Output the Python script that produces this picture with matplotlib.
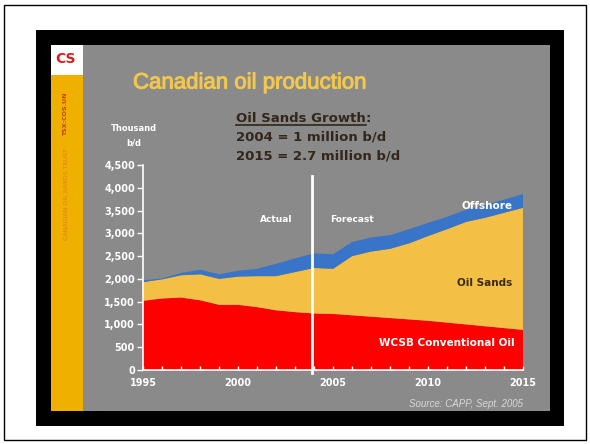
"""Canadian oil production slide, CAPP Sept 2005."""
import matplotlib

matplotlib.use("Agg")
import matplotlib.patheffects as pe
import matplotlib.pyplot as plt
from matplotlib.patches import Rectangle
from matplotlib.ticker import FixedLocator, FuncFormatter

years = list(range(1995, 2016))
conventional = [1520, 1570, 1590, 1530, 1430, 1430, 1380, 1310, 1270, 1240,
                1230, 1200, 1170, 1140, 1110, 1080, 1040, 1000, 960, 920, 880]
oil_sands = [410, 420, 490, 570, 570, 620, 680, 750, 880, 1000,
             990, 1300, 1430, 1520, 1670, 1860, 2050, 2250, 2380, 2530, 2680]
offshore = [40, 20, 50, 100, 100, 130, 160, 270, 300, 320,
            320, 310, 310, 300, 310, 290, 270, 270, 280, 290, 300]
series_names = ["WCSB Conventional Oil", "Oil Sands", "Offshore"]
yticks = [0, 500, 1000, 1500, 2000, 2500, 3000, 3500, 4000, 4500]
xticks = [1995, 2000, 2005, 2010, 2015]
forecast_start = 2003.9

RED = "#fe0000"
YELLOW = "#f3bf45"
BLUE = "#3874c8"
SLIDE = "#8a8a8a"
STRIPE = "#f0b000"
DARK = "#33261a"
BOLD = "DejaVu Sans"


def main():
    fig = plt.figure(figsize=(5.9, 4.44), dpi=100)
    fig.patch.set_facecolor("white")

    # background in pixel coords
    bg = fig.add_axes([0, 0, 1, 1])
    bg.set_xlim(0, 590)
    bg.set_ylim(444, 0)
    bg.axis("off")
    bg.add_patch(Rectangle((4, 5), 582, 435, fc="none", ec="black", lw=1))
    bg.add_patch(Rectangle((36, 30), 528, 396, fc="black", ec="none"))
    bg.add_patch(Rectangle((51, 45), 499, 366, fc=SLIDE, ec="none"))
    bg.add_patch(Rectangle((51, 45), 32, 366, fc=STRIPE, ec="none"))
    bg.add_patch(Rectangle((51, 45), 32, 30, fc="white", ec="none"))
    bg.text(66, 59, "CS", color="#d42020", fontsize=10, fontweight="bold",
            ha="center", va="center", family=BOLD)
    bg.text(66, 114, "TSX:COS.UN", rotation=90, color="#c0401a",
            fontsize=4.5, fontweight="bold", ha="center", va="center",
            family=BOLD)
    bg.text(66, 194, "CANADIAN OIL SANDS TRUST", rotation=90,
            color="#d9801a", fontsize=4.5, ha="center", va="center",
            family=BOLD)

    bg.text(250, 83, "Canadian oil production", color="#f2c84c",
            fontsize=16, family="Liberation Sans", ha="center", va="center",
            path_effects=[pe.withStroke(linewidth=0.7, foreground="#f2c84c")])

    t = bg.text(236, 118, "Oil Sands Growth", color=DARK,
                fontsize=9.5, fontweight="bold", family=BOLD, va="center")
    fig.canvas.draw()
    x1 = t.get_window_extent().x1
    bg.text(x1, 118, ":", color=DARK, fontsize=9.5,
            fontweight="bold", family=BOLD, va="center")
    bg.plot([236, x1], [125, 125], color=DARK, lw=1.2)
    bg.text(236, 137, "2004 = 1 million b/d", color=DARK,
            fontsize=9.5, fontweight="bold", family=BOLD, va="center")
    bg.text(236, 156, "2015 = 2.7 million b/d", color=DARK,
            fontsize=9.5, fontweight="bold", family=BOLD, va="center")
    bg.text(134, 128, "Thousand", color="white", fontsize=6,
            fontweight="bold", family=BOLD, ha="center", va="center")
    bg.text(134, 143, "b/d", color="white", fontsize=6,
            fontweight="bold", family=BOLD, ha="center", va="center")
    bg.text(523, 404, "Source: CAPP, Sept. 2005", color="#d8d8d8",
            fontsize=7, style="italic", family="Liberation Sans",
            ha="right", va="center")

    # chart
    ax = fig.add_axes([0.2429, 0.1667, 0.6435, 0.4617])
    ax.patch.set_alpha(0)
    ax.stackplot(years, conventional, oil_sands, offshore,
                 colors=[RED, YELLOW, BLUE], lw=0, labels=series_names)
    ax.set_xlim(years[0], years[-1])
    ax.set_ylim(0, 4500)
    for side in ("top", "right"):
        ax.spines[side].set_visible(False)
    for side in ("left", "bottom"):
        ax.spines[side].set_color("white")
        ax.spines[side].set_linewidth(1.2)
    ax.yaxis.set_major_locator(FixedLocator(yticks))
    ax.yaxis.set_major_formatter(FuncFormatter(lambda v, p: f"{v:,.0f}"))
    ax.xaxis.set_major_locator(FixedLocator(xticks))
    ax.xaxis.set_minor_locator(FixedLocator(years))
    ax.tick_params(axis="y", colors="white", direction="out", length=4,
                   width=1, pad=2)
    ax.tick_params(axis="x", which="both", colors="white", direction="in",
                   length=3, width=1, pad=6)
    for lab in ax.get_xticklabels() + ax.get_yticklabels():
        lab.set_fontweight("bold")
        lab.set_fontsize(7)
        lab.set_family(BOLD)
    ax.plot([forecast_start, forecast_start], [-60, 4250], color="white",
            lw=2, clip_on=False)

    lbl = dict(fontweight="bold", family=BOLD, ha="center", va="center")
    ax.text(2002.0, 3300, "Actual", color="white", fontsize=6.5, **lbl)
    ax.text(2006.0, 3300, "Forecast", color="white", fontsize=6.5, **lbl)
    ax.text(2013.1, 3590, series_names[2], color="white", fontsize=7.5,
            **lbl)
    ax.text(2013.0, 1900, series_names[1], color="#3a2a10", fontsize=7.5,
            **lbl)
    ax.text(2011.0, 600, series_names[0], color="white", fontsize=7.5,
            **lbl)

    fig.savefig("out.png", dpi=100)


if __name__ == "__main__":
    main()
